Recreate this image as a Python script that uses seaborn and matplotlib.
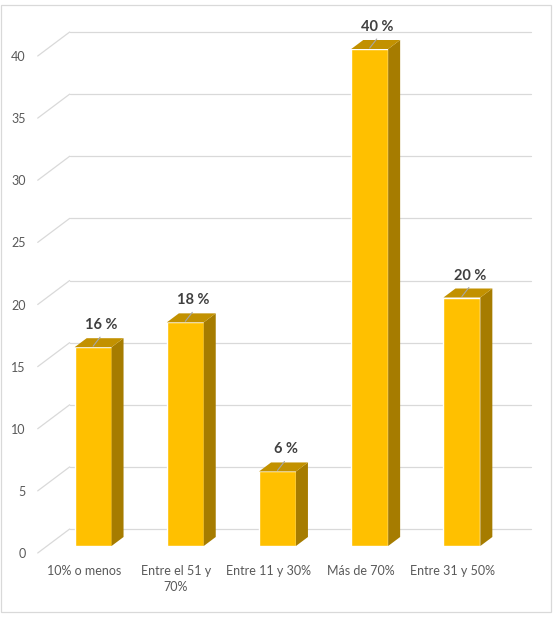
import matplotlib
matplotlib.use("Agg")
import matplotlib.pyplot as plt
import seaborn as sns
import pandas as pd
from matplotlib.transforms import ScaledTranslation, IdentityTransform
from matplotlib.patches import Polygon, Rectangle
from matplotlib.lines import Line2D

# ---- data ----
categories = ["10% o menos", "Entre el 51 y\n70%", "Entre 11 y 30%", "Más de 70%", "Entre 31 y 50%"]
values = [16, 18, 6, 40, 20]
value_labels = ["16 %", "18 %", "6 %", "40 %", "20 %"]
y_ticks = [0, 5, 10, 15, 20, 25, 30, 35, 40]

# ---- style ----
FRONT = "#FFC000"
TOP = "#C29100"
SIDE = "#A67C00"
GRID = "#D9D9D9"
TXT = "#595959"
LBL = "#404040"
FONT = "Lato"

W, H = 553, 619
sns.set_theme(style="white")
plt.rcParams["font.family"] = [FONT, "DejaVu Sans"]

fig = plt.figure(figsize=(W / 100, H / 100), dpi=100)
ax = fig.add_axes([47 / W, (H - 546) / H, (508 - 47) / W, (546 - 49) / H])
ax.patch.set_visible(False)

df = pd.DataFrame({"cat": categories, "val": values})
sns.barplot(data=df, x="cat", y="val", color=FRONT, saturation=1, width=0.4, ax=ax, zorder=2)
ax.set_xlim(-0.5, len(categories) - 0.5)
ax.set_ylim(0, 40)
ax.set_xlabel("")
ax.set_ylabel("")
for s in ax.spines.values():
    s.set_visible(False)
ax.set_yticks(y_ticks)
ax.tick_params(axis="both", length=0, labelsize=9, labelcolor=TXT)
ax.tick_params(axis="x", pad=8.5)
ax.tick_params(axis="y", pad=8.5)

# depth offsets (pixels)
BACK_DX, BACK_DY = 22.7, 17.0   # bar plane -> back wall
TICK_DX, TICK_DY = -9.3, -7.0   # bar plane -> tick plane
BAR_DX, BAR_DY = 12.0, 9.0      # bar depth

ident = IdentityTransform()
xmin, xmax = ax.get_xlim()
for v in y_ticks:
    p0 = ax.transData.transform((xmin, v))
    p1 = ax.transData.transform((xmax, v))
    ax.add_line(Line2D([p0[0] + BACK_DX, p1[0] + BACK_DX], [p0[1] + BACK_DY, p1[1] + BACK_DY],
                       transform=ident, color=GRID, lw=0.9, clip_on=False, zorder=0.5))
    ax.add_line(Line2D([p0[0] + TICK_DX, p0[0] + BACK_DX], [p0[1] + TICK_DY, p0[1] + BACK_DY],
                       transform=ident, color=GRID, lw=0.9, clip_on=False, zorder=0.5))

# 3D faces of bars
for patch, lab in zip(ax.patches, value_labels):
    x0, w, h = patch.get_x(), patch.get_width(), patch.get_height()
    (ax0, ay0) = ax.transData.transform((x0, 0))
    (ax1, ay1) = ax.transData.transform((x0 + w, h))
    side = Polygon([(ax1, ay0), (ax1 + BAR_DX, ay0 + BAR_DY), (ax1 + BAR_DX, ay1 + BAR_DY), (ax1, ay1)],
                   closed=True, transform=ident, facecolor=SIDE, edgecolor="none", clip_on=False, zorder=2.1)
    top = Polygon([(ax0, ay1), (ax1, ay1), (ax1 + BAR_DX, ay1 + BAR_DY), (ax0 + BAR_DX, ay1 + BAR_DY)],
                  closed=True, transform=ident, facecolor=TOP, edgecolor="none", clip_on=False, zorder=2.1)
    ax.add_patch(side)
    ax.add_patch(top)
    cx = (ax0 + ax1) / 2
    ax.add_line(Line2D([cx, cx + 7], [ay1 + 1, ay1 + 10], transform=ident, color="#A6A6A6",
                       lw=0.8, clip_on=False, zorder=2.2))
    ax.annotate(lab, xy=(x0 + w / 2, h), xytext=(8, 22), textcoords="offset pixels",
                ha="center", va="center", fontsize=10.5, fontweight="bold", color=LBL,
                annotation_clip=False, zorder=3)

# shift tick labels to the front (tick) plane
shift = ScaledTranslation(TICK_DX / 100, TICK_DY / 100, fig.dpi_scale_trans)
for t in ax.get_xticklabels() + ax.get_yticklabels():
    t.set_transform(t.get_transform() + shift)
for t in ax.get_xticklabels():
    t.set_linespacing(1.45)

# chart border
fig.add_artist(Rectangle((1 / W, (H - 612) / H), 550 / W, 607 / H, transform=fig.transFigure,
                         fill=False, edgecolor=GRID, lw=0.9))

fig.savefig("out.png", dpi=100)
